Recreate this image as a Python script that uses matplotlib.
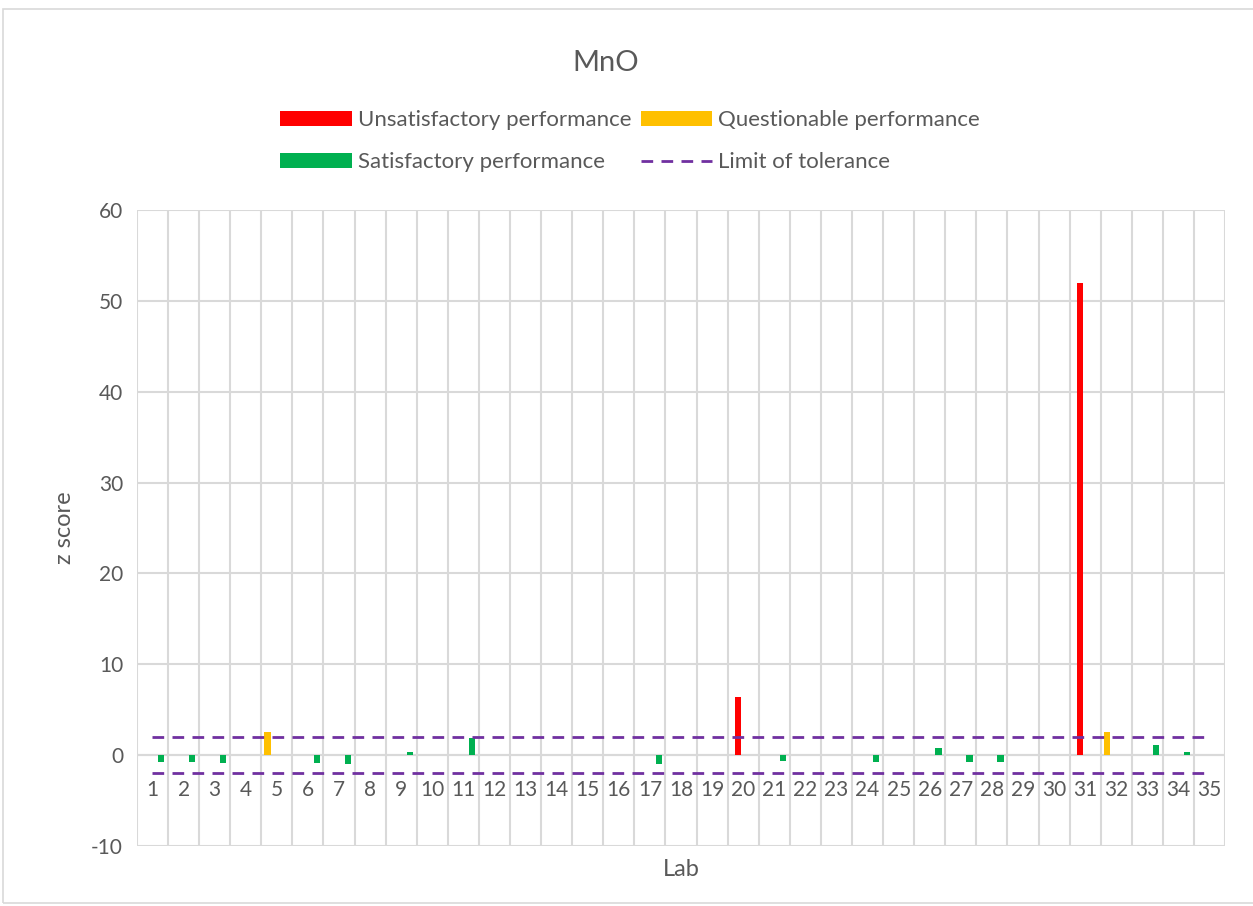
import numpy as np
import matplotlib.pyplot as plt
from matplotlib.patches import Rectangle

plt.rcParams['font.family'] = ['Lato', 'DejaVu Sans']
plt.rcParams['axes.unicode_minus'] = False

# Datos: z score por laboratorio
labs = np.arange(1, 36)
unsat_labs = [20, 31]
unsat_z = [6.4, 52.0]
quest_labs = [5, 32]
quest_z = [2.6, 2.6]
sat_labs = [1, 2, 3, 6, 7, 9, 11, 17, 21, 24, 26, 27, 28, 33, 34]
sat_z = [-0.8, -0.7, -0.9, -0.9, -1.0, 0.4, 1.9, -1.0, -0.65, -0.7, 0.8, -0.75, -0.8, 1.1, 0.4]
upper_limit = [2] * len(labs)
lower_limit = [-2] * len(labs)

grey = '#595959'
grid_c = '#d9d9d9'

fig = plt.figure(figsize=(12.53, 9.06), dpi=100)
ax = fig.add_axes([0.1093, 0.0662, 0.8684, 0.702])

# Barras (series agrupadas, desplazadas como en Excel)
w = 0.2
b_un = ax.bar(np.array(unsat_labs) - 0.16, unsat_z, width=w, color='#ff0000',
              label='Unsatisfactory performance', zorder=3)
b_q = ax.bar(np.array(quest_labs) - 0.30, quest_z, width=w, color='#ffc000',
             label='Questionable performance', zorder=3)
b_s = ax.bar(np.array(sat_labs) + 0.28, sat_z, width=w, color='#00b050',
             label='Satisfactory performance', zorder=3)

# Límites de tolerancia
l_lim, = ax.plot(labs, upper_limit, color='#7030a0', lw=2, dashes=(4.2, 3),
                 label='Limit of tolerance', zorder=4)
ax.plot(labs, lower_limit, color='#7030a0', lw=2, dashes=(4.2, 3), zorder=4)

ax.set_xlim(0.5, 35.5)
ax.set_ylim(-10, 60)
ax.set_yticks(range(-10, 61, 10))
ax.set_xticks(labs)
ax.set_xticklabels([str(i) for i in labs])

# Rejilla
ax.set_xticks(np.arange(0.5, 36, 1), minor=True)
ax.grid(True, axis='y', color=grid_c, lw=1.5, zorder=0)
ax.grid(True, axis='x', which='minor', color=grid_c, lw=1.5, zorder=0)
ax.axhline(0, color=grid_c, lw=1.5, zorder=1)

for s in ['top', 'right', 'left']:
    ax.spines[s].set_visible(False)
ax.spines['bottom'].set_position(('data', 0))
ax.spines['bottom'].set_visible(False)
ax.tick_params(axis='both', which='both', length=0, labelsize=15, colors=grey)
ax.tick_params(axis='x', pad=18)
ax.tick_params(axis='y', pad=10)

ax.set_ylabel('z score', fontsize=17, color=grey, labelpad=12)
ax.set_xlabel('Lab', fontsize=17, color=grey)
ax.xaxis.set_label_coords(0.5, -0.021)

fig.text(0.483, 0.931, 'MnO', fontsize=21, color=grey, ha='center', va='center')

ax.legend([b_un, b_s, b_q, l_lim],
          ['Unsatisfactory performance', 'Satisfactory performance',
           'Questionable performance', 'Limit of tolerance'],
          loc='center', bbox_to_anchor=(0.503, 0.844), bbox_transform=fig.transFigure,
          ncol=2, frameon=False, fontsize=16, labelcolor=grey,
          handlelength=3.2, handleheight=0.7, columnspacing=0.4,
          handletextpad=0.3, labelspacing=1.0)

# Marco del gráfico
fig.patches.append(Rectangle((3 / 1253, 0.003), 1.0, 0.987, transform=fig.transFigure,
                             fill=False, edgecolor=grid_c, lw=1.2))

plt.savefig('out.png', dpi=100)
